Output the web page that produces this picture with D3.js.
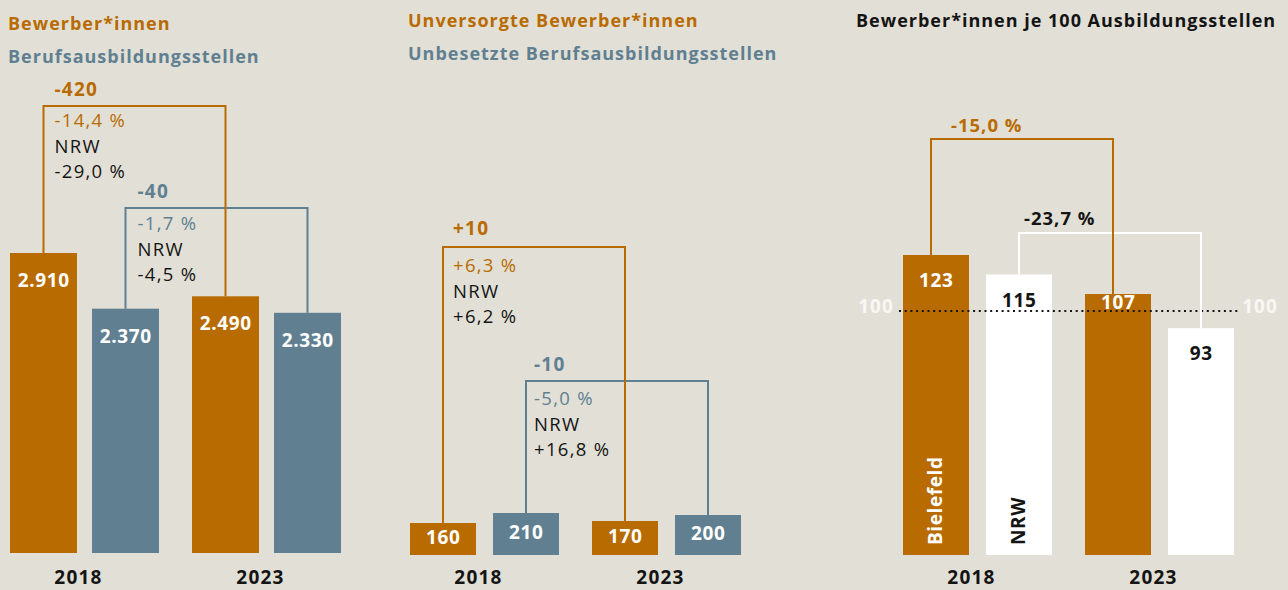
<!DOCTYPE html>
<html>
<head>
<meta charset="utf-8">
<script src="https://cdn.jsdelivr.net/npm/d3@7"></script>
<style>
	body { margin: 0; background: #e2e0d6; }
	svg { display: block; font-family: "Open Sans", sans-serif; }
</style>
</head>
<body>
<div id="chart"></div>
<script>
const years = ["2018", "2023"];

// Bewerber*innen / Berufsausbildungsstellen
const bewerber = [2910, 2490];
const stellen = [2370, 2330];
const bewerberChange = ["-420", "-14,4 %", "NRW", "-29,0 %"];
const stellenChange = ["-40", "-1,7 %", "NRW", "-4,5 %"];

// Unversorgte / Unbesetzte
const unversorgt = [160, 170];
const unbesetzt = [210, 200];
const unversorgtChange = ["+10", "+6,3 %", "NRW", "+6,2 %"];
const unbesetztChange = ["-10", "-5,0 %", "NRW", "+16,8 %"];

// Bewerber*innen je 100 Ausbildungsstellen
const relBielefeld = [123, 107];
const relNrw = [115, 93];
const relNames = ["Bielefeld", "NRW"];
const relBielefeldChange = "-15,0 %";
const relNrwChange = "-23,7 %";
const relReference = 100;

const ORANGE = "#b86b00";
const BLUE = "#607f91";
const BLACK = "#141414";

const width = 1288;
const height = 590;
const svg = d3.select("#chart")
	.append("svg")
	.attr("width", width)
	.attr("height", height);

svg.append("rect").attr("width", width).attr("height", height).attr("fill", "#e2e0d6");

const fmt = d3.formatLocale({decimal: ",", thousands: ".", grouping: [3], currency: ["", ""]}).format(",");

function title(x, y, txt, color) {
	svg.append("text")
		.attr("x", x).attr("y", y)
		.attr("fill", color)
		.attr("font-weight", 700)
		.attr("font-size", 18)
		.attr("letter-spacing", 1)
		.text(txt);
}

// draws one panel of bars, returns helpers for the annotations
function panel(cfg) {
	const outer = d3.scaleBand().domain(years).range([cfg.x0, cfg.x0 + 2 * cfg.groupStep]);
	const inner = d3.scaleBand().domain([0, 1])
		.range([0, cfg.barStep + cfg.barW])
		.paddingInner((cfg.barStep - cfg.barW) / cfg.barStep);
	const y = cfg.y;

	const rows = [];
	years.forEach((yr, i) => cfg.series.forEach((s, j) => rows.push({yr: yr, j: j, v: s.values[i], s: s})));

	const g = svg.append("g");
	g.selectAll("rect").data(rows).enter().append("rect")
		.attr("x", d => outer(d.yr) + inner(d.j))
		.attr("width", inner.bandwidth())
		.attr("y", d => y(d.v))
		.attr("height", d => y(0) - y(d.v))
		.attr("fill", d => d.s.color);

	g.selectAll("text.val").data(rows).enter().append("text")
		.attr("class", "val")
		.attr("x", d => outer(d.yr) + inner(d.j) + inner.bandwidth() / 2 + 0.3)
		.attr("y", d => cfg.labelY(d.v, y))
		.attr("text-anchor", "middle")
		.attr("font-weight", 700)
		.attr("font-size", 19)
		.attr("letter-spacing", 0.6)
		.attr("fill", d => d.s.textColor)
		.text(d => cfg.format ? cfg.format(d.v) : d.v);

	g.selectAll("text.year").data(years).enter().append("text")
		.attr("class", "year")
		.attr("x", d => outer(d) + (cfg.barStep + cfg.barW) / 2 - 6)
		.attr("y", 584)
		.attr("text-anchor", "middle")
		.attr("font-weight", 700)
		.attr("font-size", 19)
		.attr("letter-spacing", 1.2)
		.attr("fill", BLACK)
		.text(d => d);

	const cx = (yr, j) => outer(yr) + inner(j) + inner.bandwidth() / 2;
	return {outer: outer, inner: inner, y: y, cx: cx, g: g};
}

function bracket(p, j, values, top, color, opts) {
	const off = opts.xOff || 0;
	const x1 = p.cx(years[0], j) + off;
	const x2 = p.cx(years[1], j) + off;
	const path = d3.path();
	path.moveTo(x1, p.y(values[0]));
	path.lineTo(x1, top);
	path.lineTo(x2, top);
	path.lineTo(x2, p.y(values[1]));
	svg.append("path")
		.attr("d", path.toString())
		.attr("fill", "none")
		.attr("stroke", color)
		.attr("stroke-width", 2);

	const tx = x1 + opts.textX;
	svg.append("text")
		.attr("x", tx).attr("y", top - opts.headGap)
		.attr("font-weight", 700)
		.attr("font-size", 19)
		.attr("letter-spacing", 1.2)
		.attr("fill", opts.headColor || color)
		.text(opts.lines[0]);
	opts.lines.slice(1).forEach((t, k) => {
		svg.append("text")
			.attr("x", tx).attr("y", top + opts.first + k * 25.5)
			.attr("font-size", 18.5)
			.attr("letter-spacing", 1.3)
			.attr("fill", k === 0 ? color : BLACK)
			.text(t);
	});
}

// ---- panel 1
title(8, 30, "Bewerber*innen", ORANGE);
title(8, 63, "Berufsausbildungsstellen", BLUE);

const p1 = panel({
	x0: 10, groupStep: 182, barStep: 82, barW: 67,
	y: d3.scaleLinear().domain([0, 2910]).range([553, 253]),
	series: [{values: bewerber, color: ORANGE, textColor: "#fff"}, {values: stellen, color: BLUE, textColor: "#fff"}],
	format: fmt,
	labelY: (v, y) => y(v) + 34
});
bracket(p1, 1, stellen, 208, BLUE, {textX: 12, headGap: 10, first: 22, lines: stellenChange});
bracket(p1, 0, bewerber, 106, ORANGE, {textX: 11, headGap: 10, first: 21, lines: bewerberChange});

// ---- panel 2
title(408, 27, "Unversorgte Bewerber*innen", ORANGE);
title(408, 60, "Unbesetzte Berufsausbildungsstellen", BLUE);

const p2 = panel({
	x0: 410, groupStep: 182, barStep: 83, barW: 66,
	y: d3.scaleLinear().domain([0, 1000]).range([555, 355]),
	series: [{values: unversorgt, color: ORANGE, textColor: "#fff"}, {values: unbesetzt, color: BLUE, textColor: "#fff"}],
	labelY: (v, y) => (y(v) + y(0)) / 2 + 5
});
bracket(p2, 1, unbesetzt, 381, BLUE, {textX: 8, headGap: 10, first: 24, lines: unbesetztChange});
bracket(p2, 0, unversorgt, 247, ORANGE, {textX: 10, headGap: 12, first: 25, lines: unversorgtChange});

// ---- panel 3
title(856, 27, "Bewerber*innen je 100 Ausbildungsstellen", BLACK);

const y3 = d3.scaleLinear().domain([0, 123]).range([555, 255]);
const p3 = panel({
	x0: 903, groupStep: 182, barStep: 83, barW: 66,
	y: y3,
	series: [{values: relBielefeld, color: ORANGE, textColor: "#fff"}, {values: relNrw, color: "#fff", textColor: BLACK}],
	labelY: (v, y) => v > relReference ? Math.min(y(v) + 32, y(relReference) - 2) : y(v) + 32
});

// names inside the 2018 bars
relNames.forEach((n, j) => {
	svg.append("text")
		.attr("transform", "translate(" + (p3.cx(years[0], j) - 1) + ",545) rotate(-90)")
		.attr("dy", "0.35em")
		.attr("font-weight", 700)
		.attr("font-size", 19)
		.attr("letter-spacing", 0.6)
		.attr("fill", j === 0 ? "#fff" : BLACK)
		.text(n);
});

// reference line at 100
svg.append("line")
	.attr("x1", 899).attr("x2", 1238)
	.attr("y1", y3(relReference)).attr("y2", y3(relReference))
	.attr("stroke", BLACK)
	.attr("stroke-width", 2)
	.attr("stroke-dasharray", "2 3.7");
[876, 1260].forEach(x => {
	svg.append("text")
		.attr("x", x).attr("y", y3(relReference) + 2)
		.attr("text-anchor", "middle")
		.attr("font-weight", 700)
		.attr("font-size", 19)
		.attr("letter-spacing", 1)
		.attr("fill", "#f8f7f3")
		.text(relReference);
});

function simpleBracket(p, j, values, top, color, xOff, textX, label, labelColor, gap) {
	const x1 = p.cx(years[0], j) + xOff;
	const x2 = p.cx(years[1], j) + xOff;
	svg.append("path")
		.attr("d", "M" + x1 + "," + p.y(values[0]) + "V" + top + "H" + x2 + "V" + p.y(values[1]))
		.attr("fill", "none")
		.attr("stroke", color)
		.attr("stroke-width", 2);
	svg.append("text")
		.attr("x", x1 + textX).attr("y", top - gap)
		.attr("font-weight", 700)
		.attr("font-size", 18.5)
		.attr("letter-spacing", 1)
		.attr("fill", labelColor)
		.text(label);
}
simpleBracket(p3, 1, relNrw, 233, "#fff", 0, 5, relNrwChange, BLACK, 8);
simpleBracket(p3, 0, relBielefeld, 139, ORANGE, -5, 20, relBielefeldChange, ORANGE, 7);
</script>
</body>
</html>
